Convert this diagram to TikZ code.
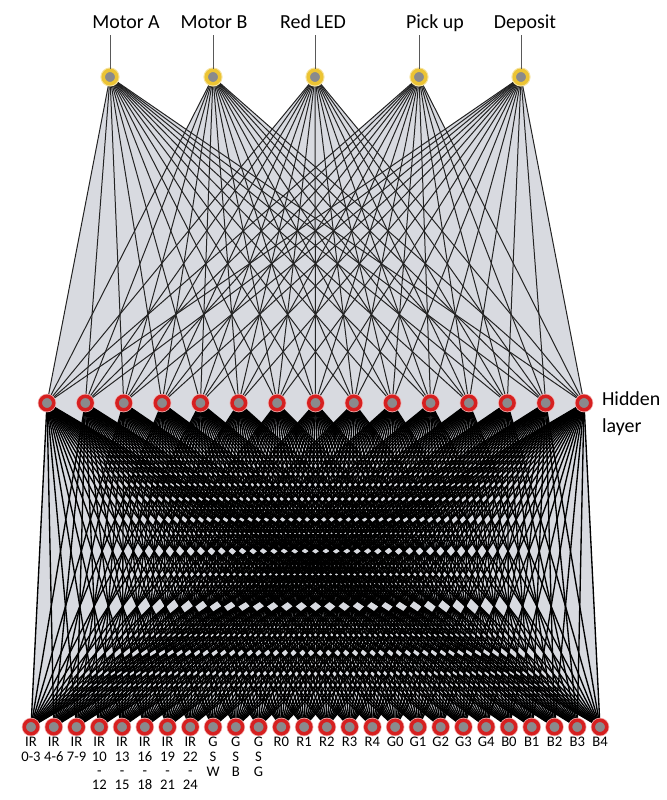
\documentclass[tikz,border=0pt]{standalone}
\usepackage{fontspec}
\setmainfont{Carlito}
\usetikzlibrary{positioning,backgrounds}

\definecolor{ringred}{RGB}{214,32,32}
\definecolor{ringgold}{RGB}{236,196,52}
\definecolor{coregray}{RGB}{138,138,140}
\definecolor{fanfill}{RGB}{216,218,224}
\definecolor{wire}{RGB}{35,35,35}

\tikzset{
    neuron/.style={circle, minimum size=0.405cm, inner sep=0pt, fill=coregray, line width=0.105cm},
    outunit/.style={neuron, draw=ringgold, preaction={draw=ringgold!45, line width=0.17cm}},
    hidunit/.style={neuron, draw=ringred, preaction={draw=ringred!35, line width=0.15cm}},
    inunit/.style={neuron, draw=ringred, preaction={draw=ringred!35, line width=0.15cm}},
    toplabel/.style={font=\fontsize{17}{20}\selectfont, inner sep=0.05cm, text depth=0.15cm},
    sidelabel/.style={font=\fontsize{17}{23}\selectfont, align=left, inner sep=0pt},
    botlabel/.style={font=\fontsize{12.5}{12.5}\selectfont, align=center, inner sep=0pt},
    wire/.style={draw=wire, line width=0.85pt},
    densewire/.style={draw=black, line width=1.15pt},
    tick/.style={draw=black!65, line width=0.7pt},
}

\begin{document}
\begin{tikzpicture}[x=0.03cm, y=-0.03cm]
    \useasboundingbox (0,0) rectangle (667,800);

    \foreach \x/\nm/\lx/\txt in {110/oa/126/Motor A, 213/ob/214/Motor B, 315/oc/313/Red LED,
                                 419/od/435/Pick up, 521/oe/525/Deposit} {
        \node[outunit] (\nm) at (\x,77) {};
        \node[toplabel, anchor=base] (\nm-lab) at (\lx,28) {\txt};
        \draw[tick] (\nm) -- (\nm |- \nm-lab.south);
    }

    \foreach \i in {1,...,15}
        \node[hidunit] (h\i) at ({47+(\i-1)*38.357},403) {};
    \node[sidelabel, anchor=west] (hid-lab) at ([xshift=0.28cm, yshift=-0.33cm]h15.east) {Hidden\\layer};

    \foreach \txt [count=\i] in {{IR\\0-3}, {IR\\4-6}, {IR\\7-9}, {IR\\10\\[-0.5pt]-\\[-0.5pt]12},
            {IR\\13\\[-0.5pt]-\\[-0.5pt]15}, {IR\\16\\[-0.5pt]-\\[-0.5pt]18}, {IR\\19\\[-0.5pt]-\\[-0.5pt]21},
            {IR\\22\\[-0.5pt]-\\[-0.5pt]24}, {G\\S\\W}, {G\\S\\B}, {G\\S\\G},
            R0, R1, R2, R3, R4, G0, G1, G2, G3, G4, B0, B1, B2, B3, B4} {
        \node[inunit] (in\i) at ({31+(\i-1)*22.76},727) {};
        \node[botlabel, below=0.05cm of in\i] (in\i-lab) {\txt};
    }

    \begin{pgfonlayer}{background}
        \foreach \o in {oa,ob,oc,od,oe}
            \fill[fanfill] (\o.center) -- (h1.center) -- (h15.center) -- cycle;
        \foreach \i in {1,...,26}
            \fill[fanfill] (in\i.center) -- (h1.center) -- (h15.center) -- cycle;
        \foreach \h in {1,...,15} {
            \foreach \o in {oa,ob,oc,od,oe}
                \draw[wire] (\o.center) -- (h\h.center);
            \foreach \i in {1,...,26}
                \draw[densewire] (in\i.center) -- (h\h.center);
        }
    \end{pgfonlayer}
\end{tikzpicture}
\end{document}
